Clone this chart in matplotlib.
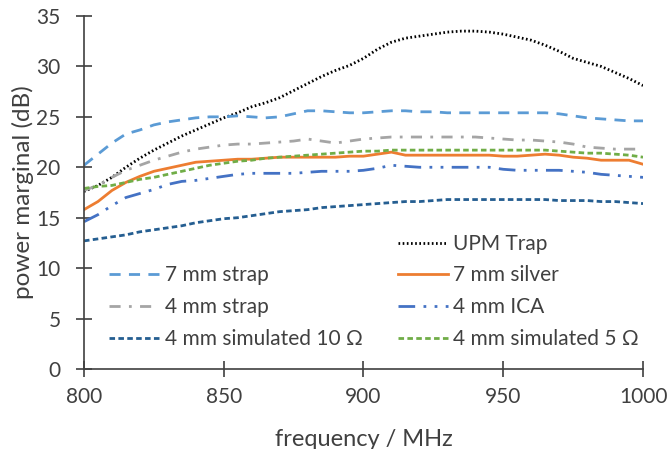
import matplotlib
matplotlib.use("Agg")
import matplotlib.pyplot as plt
from matplotlib.lines import Line2D
import numpy as np

freq = np.arange(800, 1001, 5)

upm_trap = [17.6, 18.2, 19.0, 20.0, 20.9, 21.7, 22.4, 23.1, 23.7, 24.3, 24.9, 25.4, 26.0, 26.4,
            26.9, 27.6, 28.3, 29.0, 29.6, 30.1, 30.8, 31.7, 32.4, 32.8, 33.0, 33.2, 33.4, 33.5,
            33.5, 33.4, 33.2, 32.9, 32.6, 32.1, 31.5, 30.8, 30.4, 30.0, 29.4, 28.8, 28.1]
strap_7mm = [20.2, 21.3, 22.4, 23.3, 23.7, 24.2, 24.5, 24.7, 24.9, 25.0, 25.0, 25.1, 25.0, 24.9,
             25.0, 25.3, 25.6, 25.6, 25.5, 25.4, 25.4, 25.5, 25.6, 25.6, 25.5, 25.5, 25.4, 25.4,
             25.4, 25.4, 25.4, 25.4, 25.4, 25.4, 25.3, 25.1, 24.9, 24.8, 24.7, 24.6, 24.6]
silver_7mm = [15.8, 16.6, 17.7, 18.5, 19.1, 19.6, 19.9, 20.2, 20.5, 20.6, 20.7, 20.8, 20.8, 20.9,
              21.0, 21.0, 21.0, 21.0, 21.0, 21.1, 21.1, 21.3, 21.5, 21.2, 21.2, 21.2, 21.2, 21.2,
              21.2, 21.2, 21.1, 21.1, 21.2, 21.3, 21.2, 21.0, 20.9, 20.7, 20.7, 20.7, 20.3]
strap_4mm = [17.7, 18.2, 19.0, 19.7, 20.2, 20.7, 21.1, 21.5, 21.8, 22.0, 22.2, 22.3, 22.3, 22.4,
             22.5, 22.6, 22.8, 22.6, 22.4, 22.6, 22.8, 22.9, 23.0, 23.0, 23.0, 23.0, 23.0, 23.0,
             23.0, 22.9, 22.8, 22.7, 22.7, 22.6, 22.5, 22.3, 22.0, 21.9, 21.8, 21.8, 21.8]
ica_4mm = [14.6, 15.3, 16.2, 17.0, 17.4, 17.8, 18.3, 18.6, 18.7, 18.9, 19.1, 19.3, 19.4, 19.4,
           19.4, 19.4, 19.5, 19.6, 19.6, 19.6, 19.7, 19.9, 20.2, 20.1, 20.0, 20.0, 20.0, 20.0,
           20.0, 20.0, 19.8, 19.7, 19.7, 19.7, 19.7, 19.6, 19.5, 19.3, 19.2, 19.1, 19.0]
sim_10 = [12.7, 12.9, 13.1, 13.3, 13.6, 13.8, 14.0, 14.2, 14.5, 14.7, 14.9, 15.0, 15.2, 15.4,
          15.6, 15.7, 15.8, 16.0, 16.1, 16.2, 16.3, 16.4, 16.5, 16.6, 16.6, 16.7, 16.8, 16.8,
          16.8, 16.8, 16.8, 16.8, 16.8, 16.8, 16.7, 16.7, 16.7, 16.6, 16.6, 16.5, 16.4]
sim_5 = [17.9, 18.1, 18.2, 18.5, 18.8, 19.0, 19.3, 19.6, 19.9, 20.2, 20.4, 20.6, 20.7, 20.9,
         21.0, 21.1, 21.2, 21.3, 21.4, 21.5, 21.6, 21.6, 21.7, 21.7, 21.7, 21.7, 21.7, 21.7,
         21.7, 21.7, 21.7, 21.7, 21.7, 21.7, 21.6, 21.5, 21.4, 21.4, 21.3, 21.2, 21.0]

plt.rcParams['font.family'] = ['Lato', 'DejaVu Sans']

fig = plt.figure(figsize=(6.68, 4.49), dpi=100)
ax = fig.add_axes([0.1257, 0.1782, 0.9626 - 0.1257, 0.9644 - 0.1782])

l_upm, = ax.plot(freq, upm_trap, color="black", lw=2, linestyle=(0, (0.6, 0.9)), label="UPM Trap")
l_s7, = ax.plot(freq, strap_7mm, color="#5B9BD5", lw=2, linestyle=(0, (4, 3)), label="7 mm strap")
l_ag, = ax.plot(freq, silver_7mm, color="#ED7D31", lw=2, label="7 mm silver")
l_s4, = ax.plot(freq, strap_4mm, color="#A5A5A5", lw=2, linestyle=(0, (4, 3, 1, 3)), label="4 mm strap")
l_ica, = ax.plot(freq, ica_4mm, color="#4472C4", lw=2, linestyle=(0, (6, 3, 1, 3, 1, 3)), label="4 mm ICA")
l_10, = ax.plot(freq, sim_10, color="#255E91", lw=2, linestyle=(0, (2, 1.2)), label="4 mm simulated 10 Ω")
l_5, = ax.plot(freq, sim_5, color="#70AD47", lw=2, linestyle=(0, (2, 1.2)), label="4 mm simulated 5 Ω")

ax.set_xlim(800, 1000)
ax.set_ylim(0, 35)
ax.set_xticks([800, 850, 900, 950, 1000])
ax.set_yticks(range(0, 36, 5))
ax.tick_params(direction="inout", length=11.5, width=1.2, labelsize=15, colors="#404040")
ax.tick_params(axis="x", pad=7)
ax.tick_params(axis="y", pad=11)
for s in ["top", "right"]:
    ax.spines[s].set_visible(False)
for s in ["left", "bottom"]:
    ax.spines[s].set_color("#404040")
    ax.spines[s].set_linewidth(1.2)

ax.set_xlabel("frequency / MHz", fontsize=17, color="#404040", labelpad=16)
ax.set_ylabel("power marginal (dB)", fontsize=17.5, color="#404040", labelpad=2)

blank = Line2D([], [], color="none")
handles = [blank, l_s7, l_s4, l_10, l_upm, l_ag, l_ica, l_5]
labels = ["", "7 mm strap", "4 mm strap", "4 mm simulated 10 Ω",
          "UPM Trap", "7 mm silver", "4 mm ICA", "4 mm simulated 5 Ω"]
ax.legend(handles, labels, ncol=2, loc="lower left", bbox_to_anchor=(0.012, 0.004),
          frameon=False, fontsize=15, handlelength=2.4, handletextpad=0.25,
          columnspacing=1.7, labelspacing=0.56, labelcolor="#404040")

fig.savefig("out.png", dpi=100)
